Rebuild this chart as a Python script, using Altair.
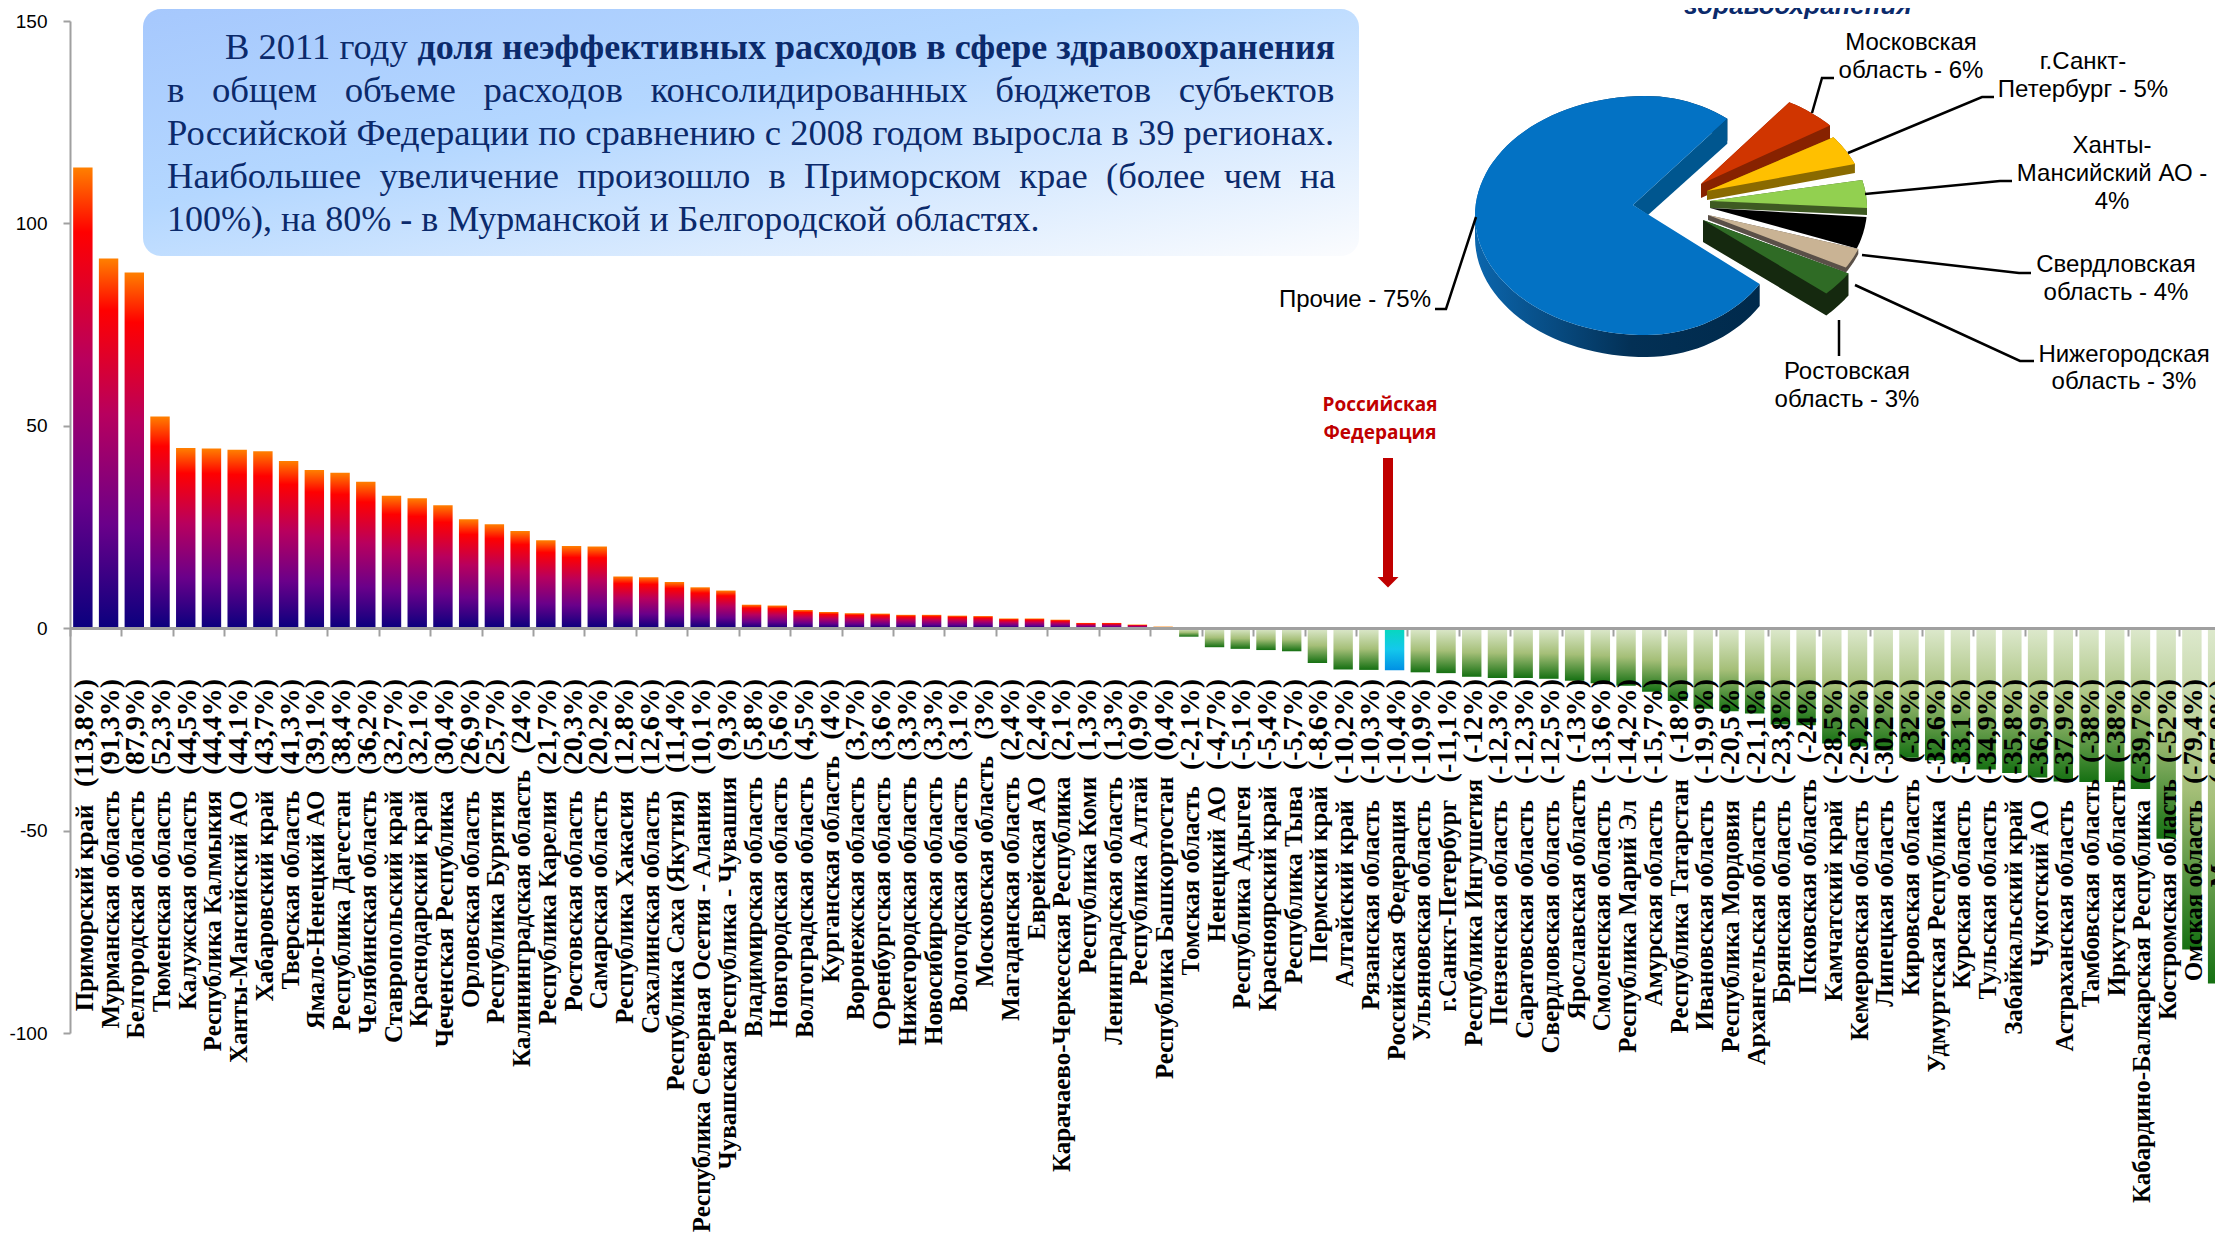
import math
import altair as alt
import pandas as pd

names = ["Приморский край","Мурманская область","Белгородская область","Тюменская область","Калужская область","Республика Калмыкия","Ханты-Мансийский АО","Хабаровский край","Тверская область","Ямало-Ненецкий АО","Республика Дагестан","Челябинская область","Ставропольский край","Краснодарский край","Чеченская Республика","Орловская область","Республика Бурятия","Калининградская область","Республика Карелия","Ростовская область","Самарская область","Республика Хакасия","Сахалинская область","Республика Саха (Якутия)","Республика Северная Осетия - Алания","Чувашская Республика - Чувашия","Владимирская область","Новгородская область","Волгоградская область","Курганская область","Воронежская область","Оренбургская область","Нижегородская область","Новосибирская область","Вологодская область","Московская область","Магаданская область","Еврейская АО","Карачаево-Черкесская Республика","Республика Коми","Ленинградская область","Республика Алтай","Республика Башкортостан","Томская область","Ненецкий АО","Республика Адыгея","Красноярский край","Республика Тыва","Пермский край","Алтайский край","Рязанская область","Российская Федерация","Ульяновская область","г.Санкт-Петербург","Республика Ингушетия","Пензенская область","Саратовская область","Свердловская область","Ярославская область","Смоленская область","Республика Марий Эл","Амурская область","Республика Татарстан","Ивановская область","Республика Мордовия","Архангельская область","Брянская область","Псковская область","Камчатский край","Кемеровская область","Липецкая область","Кировская область","Удмуртская Республика","Курская область","Тульская область","Забайкальский край","Чукотский АО","Астраханская область","Тамбовская область","Иркутская область","Кабардино-Балкарская Республика","Костромская область","Омская область","г. Москва"]
values = [113.8,91.3,87.9,52.3,44.5,44.4,44.1,43.7,41.3,39.1,38.4,36.2,32.7,32.1,30.4,26.9,25.7,24,21.7,20.3,20.2,12.8,12.6,11.4,10.1,9.3,5.8,5.6,4.5,4,3.7,3.6,3.3,3.3,3.1,3,2.4,2.4,2.1,1.3,1.3,0.9,0.4,-2.1,-4.7,-5.1,-5.4,-5.7,-8.6,-10.2,-10.3,-10.4,-10.9,-11.1,-12,-12.3,-12.3,-12.5,-13,-13.6,-14.2,-15.7,-18,-19.9,-20.5,-21.1,-23.8,-24,-28.5,-29.2,-30.2,-32,-32.6,-33.1,-34.9,-35.8,-36.9,-37.9,-38,-38,-39.7,-52,-79.4,-87.8]
y_ticks = [-100,-50,0,50,100,150]

NB = "\u00a0"

PW, PH, STEP, UNIT = 2145, 1012, 25.72, 4.048
XMAX = PW / STEP
def X(px): return (px - 70) / STEP
def Y(py): return 150 - (py - 21) / UNIT
xs = alt.Scale(domain=[0, XMAX], nice=False, zero=False, padding=0)
ys = alt.Scale(domain=[-100, 150], nice=False)
XE = lambda f="x:Q", **k: alt.X(f, scale=xs, title=None, **k)
YE = lambda f="y:Q", **k: alt.Y(f, scale=ys, title=None, **k)

VAL_FS, NAME_FS, LABEL_TOP, LABEL_GAP = 28, 25, 679, 16
EM = {"(": .333, ")": .333, ",": .25, "%": 1.0, "-": .333}
def val_text(v): return "(" + f"{v:g}".replace(".", ",") + "%)"
def val_len(t): return sum(EM.get(c, .5) for c in t) * VAL_FS

df = pd.DataFrame({"name": names, "value": values})
df["x"] = [i + 0.5 for i in range(len(df))]
df["zero"] = 0
df["vt"] = [val_text(v) for v in values]
df["vy"] = Y(LABEL_TOP)
df["ny"] = [Y(LABEL_TOP + val_len(t) + LABEL_GAP) for t in df["vt"]]

def grad(stops, x2=0, y2=1):
    return alt.Gradient(gradient="linear", x1=0, y1=0, x2=x2, y2=y2,
                        stops=[alt.GradientStop(offset=o, color=c) for o, c in stops])

pos = alt.Chart(df[df.value > 0]).mark_bar(size=19.4, clip=True, color=grad([(0,"#ff8000"),(0.14,"#ff0000"),(0.42,"#b8005e"),(0.72,"#6a008a"),(1,"#0a007e")])).encode(
    x=alt.X("x:Q", scale=xs, title=None, axis=alt.Axis(values=list(range(0, 85)), labels=False, domainColor="#a0a0a0", domainWidth=3, tickColor="#a0a0a0", tickWidth=2, tickSize=8, offset=-(1033-628), grid=False, zindex=1)),
    y=alt.Y("value:Q", scale=ys, title=None, axis=alt.Axis(values=y_ticks, grid=False, domainColor="#a0a0a0", domainWidth=2, tickColor="#a0a0a0", tickWidth=2, tickSize=7, labelPadding=16, labelFont="Liberation Sans", labelFontSize=19, labelColor="#000000", labelExpr="'' + datum.value", zindex=1)),
    y2="zero:Q")
neg = alt.Chart(df[(df.value < 0) & (df.name != "Российская Федерация")]).mark_bar(size=19.4, clip=True, color=grad([(0,"#dde9cd"),(0.5,"#a5bf78"),(1,"#157012")])).encode(x=XE(), y=YE("value:Q"), y2="zero:Q")
rus = alt.Chart(df[df.name == "Российская Федерация"]).mark_bar(size=19.4, clip=True, color=grad([(0,"#06d8bc"),(0.5,"#14c8ec"),(1,"#0090e4")])).encode(x=XE(), y=YE("value:Q"), y2="zero:Q")
lab_common = dict(angle=270, align="right", baseline="middle", font="Liberation Serif", fontWeight="bold", color="#000000", dy=2)
val_labels = alt.Chart(df).mark_text(fontSize=VAL_FS, **lab_common).encode(x=XE(), y=YE("vy:Q"), text="vt:N")
name_labels = alt.Chart(df).mark_text(fontSize=NAME_FS, **lab_common).encode(x=XE(), y=YE("ny:Q"), text="name:N")

box_df = pd.DataFrame([{"x": X(143), "x2": X(1359), "y": Y(9), "y2": Y(256)}])
box = alt.Chart(box_df).mark_rect(cornerRadius=18, color=grad([(0,"#a6c8fd"),(0.4,"#b4d7ff"),(1,"#fbfcfe")], x2=1, y2=1)).encode(x=XE(), x2="x2:Q", y=YE(), y2="y2:Q")

TC = "#0b2a6b"
def text_layer(rows, **kw):
    return alt.Chart(pd.DataFrame(rows)).mark_text(**kw).encode(x=XE(), y=YE(), text="t:N")
def R(px, py, t): return {"x": X(px), "y": Y(py), "t": t}

serif = dict(font="Liberation Serif", color=TC, baseline="alphabetic")
box_txt = [
    text_layer([R(225,59,"В 2011 году")], align="left", fontSize=36.6, **serif),
    text_layer([R(1335,59,"доля неэффективных расходов в сфере здравоохранения")], align="right", fontWeight="bold", fontSize=36.1, **serif),
    text_layer([R(167,102,(NB*3).join("в общем объеме расходов консолидированных бюджетов субъектов".split()))], align="left", fontSize=36.8, **serif),
    text_layer([R(167,145,"Российской Федерации по сравнению с 2008 годом выросла в 39 регионах.")], align="left", fontSize=36.6, **serif),
    text_layer([R(167,188,(NB*2).join("Наибольшее увеличение произошло в Приморском крае (более чем на".split()))], align="left", fontSize=36.6, **serif),
    text_layer([R(167,231,"100%), на 80% - в Мурманской и Белгородской областях.")], align="left", fontSize=36, **serif),
]

# Pie: slice edges, degrees counter-clockwise from the right
blue_start, blue_end = 54, 325
slice_names = ["Московская область","г.Санкт-Петербург","Ханты-Мансийский АО","Свердловская область","Нижегородская область","Ростовская область"]
slice_a0 = [60.3, 37.6, 14, -4.5, -20.5, -32.5]
slice_a1 = [42.7, 22.3, 0, -20.5, -30.6, -44.5]
slice_top = ["#d03500","#ffc000","#92d050","#000000","#c9b394","#2f6b25"]
slice_side = ["#872200","#8a6a00","#3e5a22","#000000","#5a5048","#15290f"]
slice_wall = [14, 9, 7, 0, 5, 22]
slice_reach = [1.05, 1, 1, 1, 1.01, 1.05]
slice_apex_dx = [-4, 2, 5, 5, 3, -2]
slice_apex_dy = [-24, -17, -7, 0, 7, 12]

def arc_pts(cx, cy, rxl, rxr, ry, a0, a1, n=36):
    pts = []
    for i in range(n + 1):
        a = math.radians(a0 + (a1 - a0) * i / n)
        c, s = math.cos(a), math.sin(a)
        pts.append((cx + (rxr if c > 0 else rxl) * c, cy - ry * s))
    return pts

def area(p):
    return sum(p[i][0]*p[(i+1)%len(p)][1]-p[(i+1)%len(p)][0]*p[i][1] for i in range(len(p)))
def d(poly, ox, oy):
    if area(poly) < 0:
        poly = poly[::-1]
    return "M" + "L".join(f"{x-ox:.1f} {y-oy:.1f}" for x, y in poly) + "Z"
def wall_path(poly, h, ox, oy, closed=True):
    out = [d([(x, y+h) for x, y in poly], ox, oy)] if closed else []
    n = len(poly) if closed else len(poly) - 1
    for i in range(n):
        a, b = poly[i], poly[(i+1) % len(poly)]
        out.append(d([a, b, (b[0], b[1]+h), (a[0], a[1]+h)], ox, oy))
    return "".join(out)

ax, ay = 1650, 210  # anchor that all pie paths are relative to
def shape_layer(path, fill):
    return alt.Chart(pd.DataFrame([{"x": X(ax), "y": Y(ay)}])).mark_point(shape=path, size=4, filled=True, opacity=1, fill=fill, strokeWidth=0).encode(x=XE(), y=YE())

blue_arc = arc_pts(1645, 215.5, 170, 140, 119.5, blue_start, blue_end, 90)
blue_poly = [(1633, 205)] + blue_arc
pie = []
pie.append(shape_layer(wall_path(blue_arc, 22, ax, ay, closed=False), grad([(0,"#0b66ad"),(0.3,"#07497e"),(0.55,"#033055"),(1,"#002a4c")], x2=1, y2=0)))
pie.append(shape_layer(d([blue_arc[0], (blue_arc[0][0], blue_arc[0][1]+25), (1648,215), (1633,205)], ax, ay), "#00568f"))
pie.append(shape_layer(d(blue_poly, ax, ay), "#0372c4"))
for i in range(len(slice_names)):
    k = slice_reach[i]
    outer = arc_pts(1705, 208, 162*k, 162*k, 116*k, slice_a0[i], slice_a1[i], 16)
    poly = [(1705 + slice_apex_dx[i], 208 + slice_apex_dy[i])] + outer
    if slice_wall[i]:
        pie.append(shape_layer(wall_path(poly, slice_wall[i], ax, ay), slice_side[i]))
    pie.append(shape_layer(d(poly, ax, ay), slice_top[i]))

leader_sets = [
    [(1812,113),(1822,78),(1834,78)],
    [(1848,153),(1982,97),(1994,97)],
    [(1865,194),(2000,181),(2012,181)],
    [(1862,255),(2019,273),(2031,273)],
    [(1855,285),(2020,361),(2034,361)],
    [(1839,320),(1839,356)],
    [(1476,217),(1446,309),(1435,309)],
]
lead_rows = [{"k": i, "o": j, "x": X(p[0]), "y": Y(p[1])} for i, s in enumerate(leader_sets) for j, p in enumerate(s)]
leaders = alt.Chart(pd.DataFrame(lead_rows)).mark_line(color="#000000", strokeWidth=2.5).encode(x=XE(), y=YE(), detail="k:N", order="o:Q")

sans = dict(font="Liberation Sans", fontSize=24, color="#000000", baseline="middle")
pie_txt = text_layer([
    R(1911,43,"Московская"), R(1911,71,"область - 6%"),
    R(2083,62,"г.Санкт-"), R(2083,90,"Петербург - 5%"),
    R(2112,146,"Ханты-"), R(2112,174,"Мансийский АО -"), R(2112,202,"4%"),
    R(2116,265,"Свердловская"), R(2116,293,"область - 4%"),
    R(2124,355,"Нижегородская"), R(2124,382,"область - 3%"),
    R(1847,372,"Ростовская"), R(1847,400,"область - 3%"),
], align="center", **sans)
other_txt = text_layer([R(1431,300,"Прочие - 75%")], align="right", **sans)
pie_title = text_layer([R(1798,6,"здравоохранения")], align="center", font="Liberation Sans", fontSize=26, fontWeight="bold", fontStyle="italic", color="#0b2a6b", baseline="middle")

rf_txt = text_layer([R(1380,405,"Российская"), R(1380,433,"Федерация")], align="center", font="Open Sans", fontSize=19, fontWeight="bold", color="#c00000", baseline="middle")
shaft = alt.Chart(pd.DataFrame([{"x": X(1388), "y": Y(458), "y2": Y(578)}])).mark_rule(color="#c00000", strokeWidth=10).encode(x=XE(), y=YE(), y2="y2:Q")
head = alt.Chart(pd.DataFrame([{"x": X(1388), "y": Y(577)}])).mark_point(shape="M-10.5 0L10.5 0L0 10.5Z", size=4, filled=True, opacity=1, fill="#c00000", strokeWidth=0).encode(x=XE(), y=YE())

chart = alt.layer(pos, neg, rus, name_labels, val_labels, box, *box_txt, *pie, leaders, pie_txt, other_txt, pie_title, rf_txt, shaft, head).properties(
    width=PW, height=PH,
    autosize=alt.AutoSizeParams(type="none"),
    padding={"left": 62, "top": 13, "right": 0, "bottom": 207},
    background="white",
).configure_view(stroke=None)

chart.save("out.html", embed_options={"renderer": "svg", "actions": False})
